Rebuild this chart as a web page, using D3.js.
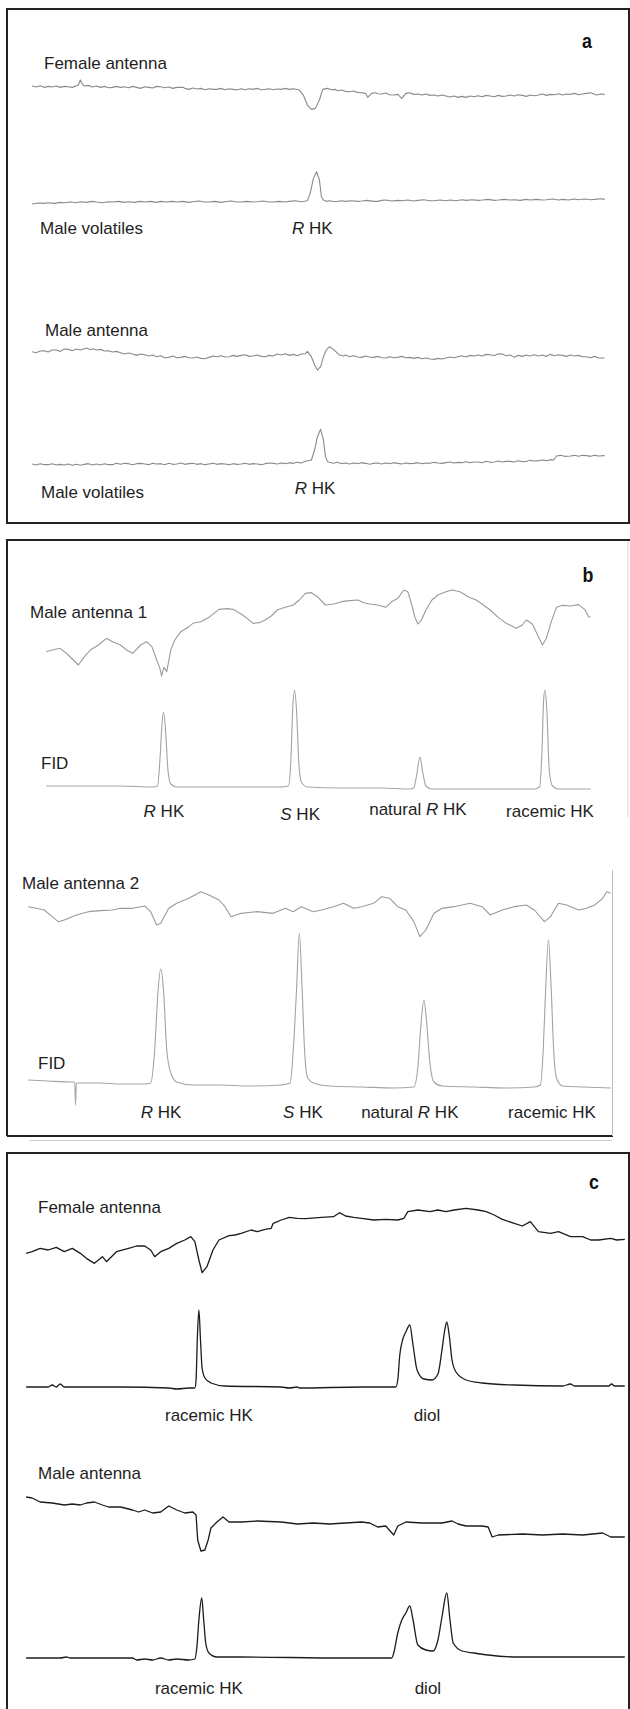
<!DOCTYPE html>
<html><head><meta charset="utf-8">
<script src="https://cdn.jsdelivr.net/npm/d3@7"></script>
<style>html,body{margin:0;padding:0;background:#fff;}svg{display:block;}</style>
</head><body>
<svg id="chart" width="630" height="1709"></svg>
<script>
// ---------- DATA: [retention time (arbitrary units), detector response] ----------
const femaleAntennaA = [[8.0,0.2],[9.0,-0.1],[10.0,0.3],[11.0,-0.2],[12.0,0.1],[13.0,-0.1],[14.0,0.2],[15.0,-0.2],[16.0,0.1],[17.0,0],[18.0,-0.2],[19.0,0.3],[19.5,0.5],[20.0,2.0],[20.5,0.8],[21.0,0.2],[22.0,0.4],[23.0,-0.1],[24.0,0.2],[25.0,-0.2],[26.0,0.1],[27.0,-0.3],[28.0,-0.2],[29.0,0.1],[30.0,-0.2],[31.0,0],[32.0,-0.3],[33.0,0.1],[34.0,-0.2],[35.0,-0.5],[36.0,0],[37.0,-0.2],[38.0,-0.4],[39.0,0.1],[40.0,0],[41.0,-0.3],[42.0,-0.1],[43.0,-0.5],[44.0,-0.2],[45.5,-0.2],[46.0,-0.5],[47.0,-0.8],[48.0,-0.4],[49.0,-0.7],[50.0,-0.5],[51.0,-0.9],[52.0,-0.6],[53.0,-0.8],[54.0,-0.8],[55.0,-0.5],[56.0,-0.9],[57.0,-0.6],[58.0,-0.8],[59.0,-1.0],[60.0,-0.6],[61.0,-0.9],[62.0,-0.6],[63.0,-0.8],[64.0,-0.5],[65.0,-0.9],[66.0,-0.8],[67.0,-0.6],[68.0,-0.9],[69.0,-0.7],[70.0,-0.8],[71.0,-0.5],[72.0,-0.8],[73.0,-0.6],[74.5,-1.0],[75.5,-2.5],[76.5,-5.5],[77.5,-6.8],[78.5,-6.5],[79.5,-4.0],[80.3,-0.8],[81.5,-0.5],[82.5,-0.9],[83.5,-0.8],[84.0,-1.2],[85.0,-1.0],[86.0,-1.4],[87.0,-1.5],[88.0,-1.3],[89.0,-1.7],[90.0,-1.8],[91.0,-2.0],[91.5,-3.2],[92.5,-2.0],[93.5,-1.8],[94.0,-2.1],[95.0,-2.2],[96.0,-1.9],[97.0,-2.4],[98.0,-2.5],[99.0,-2.3],[100.0,-3.5],[101.0,-2.0],[102.0,-1.8],[103.0,-2.3],[104.0,-2.2],[105.0,-2.5],[106.0,-2.2],[107.0,-2.6],[108.0,-2.5],[109.0,-2.8],[110.0,-2.5],[111.0,-2.8],[112.0,-3.1],[113.0,-2.8],[114.0,-3.2],[115.0,-2.9],[116.0,-3.2],[117.0,-2.8],[118.0,-3.0],[119.0,-2.7],[120.0,-3.0],[121.0,-2.6],[122.0,-2.8],[123.0,-3.0],[124.0,-2.6],[125.0,-2.9],[126.0,-2.8],[127.0,-2.5],[128.0,-2.8],[129.0,-2.4],[130.0,-2.6],[131.0,-2.9],[132.0,-2.5],[133.0,-2.7],[134.0,-2.5],[135.0,-2.2],[136.0,-2.6],[137.0,-2.3],[138.0,-2.4],[139.0,-2.1],[140.0,-2.5],[141.0,-2.2],[142.0,-2.3],[143.0,-2.0],[144.0,-2.4],[145.0,-2.2],[146.0,-2.0],[147.0,-1.8],[148.5,-2.5],[149.5,-2.2],[150.5,-2.3]];
const maleVolatilesA1 = [[8.0,-0.7],[9.5,-0.4],[11.0,-0.5],[12.0,-0.3],[13.5,-0.5],[15.0,-0.2],[16.0,-0.3],[17.5,-0.1],[19.0,-0.3],[20.0,0],[21.5,-0.2],[23.0,0.1],[24.0,-0.1],[25.5,-0.3],[27.0,0],[28.0,-0.1],[29.5,0.1],[31.0,-0.2],[32.0,0],[33.5,-0.2],[35.0,0.1],[36.0,-0.1],[37.5,0.1],[39.0,-0.2],[40.0,0.1],[41.5,-0.1],[43.0,0.1],[44.0,-0.1],[45.5,0.1],[47.0,-0.2],[48.0,0],[49.5,0.2],[51.0,-0.1],[52.0,-0.1],[53.5,0.1],[55.0,-0.2],[56.0,0],[57.5,0.2],[59.0,-0.1],[60.0,-0.1],[61.5,0.1],[63.0,-0.1],[64.0,0],[65.5,0.2],[67.0,-0.1],[68.0,-0.1],[69.5,0.1],[71.0,-0.1],[72.0,0.1],[73.5,0.3],[75.0,0],[76.5,0.3],[77.2,2.5],[78.0,7.0],[78.8,9.0],[79.5,6.5],[80.0,1.5],[80.5,0.5],[81.2,0.1],[82.0,0.3],[83.5,0.0],[85.0,0.3],[86.0,0.1],[87.5,0.3],[89.0,0.1],[90.0,0.2],[91.5,0.4],[93.0,0.1],[94.0,0.1],[95.0,0.4],[96.0,0.5],[97.5,0.2],[99.0,0.4],[100.0,0.3],[101.5,0.5],[103.0,0.2],[104.0,0.4],[105.5,0.6],[107.0,0.3],[108.0,0.3],[109.5,0.5],[111.0,0.3],[112.0,0.5],[113.5,0.3],[115.0,0.6],[116.0,0.4],[117.5,0.6],[119.0,0.4],[120.0,0.5],[121.5,0.7],[123.0,0.4],[124.0,0.5],[125.5,0.7],[127.0,0.5],[128.0,0.6],[129.5,0.4],[131.0,0.7],[132.0,0.5],[133.5,0.7],[135.0,0.5],[136.0,0.6],[137.5,0.8],[139.0,0.5],[140.0,0.7],[141.5,0.5],[143.0,0.8],[144.0,0.6],[145.5,0.8],[147.0,0.6],[148.0,0.7],[149.5,0.9],[150.5,0.7]];
const maleAntennaA = [[8.0,1.5],[9.0,1.2],[10.0,1.7],[11.0,1.8],[12.0,1.4],[13.0,2.0],[14.0,2.0],[15.0,1.6],[16.0,2.3],[17.0,2.2],[18.0,1.8],[19.0,2.3],[20.0,2.0],[21.0,2.4],[21.5,2.6],[22.5,2.1],[23.0,2.4],[24.0,2.0],[25.0,2.2],[26.0,1.7],[27.0,1.8],[28.0,1.4],[29.0,1.6],[30.0,1.2],[31.0,0.8],[32.0,1.1],[33.0,0.8],[34.0,0.4],[35.0,0.8],[36.0,0.6],[37.0,0.2],[38.0,0.5],[39.0,0],[40.0,0.3],[41.0,-0.3],[42.0,-0.2],[43.0,0.2],[44.0,-0.3],[45.0,-0.2],[46.0,0.1],[47.0,-0.3],[48.0,-0.4],[49.0,-0.1],[50.0,-0.5],[51.0,-0.6],[52.0,-0.2],[53.0,0.2],[54.0,0],[55.0,0.3],[56.0,-0.1],[57.0,0],[58.0,0.4],[59.0,0.1],[60.0,0.4],[61.0,0.6],[62.0,0.1],[63.0,0.2],[64.0,0.5],[65.0,0.1],[66.0,0],[67.0,0.4],[68.0,0.2],[69.0,0.8],[70.0,0.5],[71.0,0.9],[72.0,0.4],[73.0,0.7],[74.0,0.3],[75.0,0.8],[76.0,0.9],[76.5,1.6],[77.5,0],[78.3,-2.5],[79.0,-4.0],[79.8,-3.0],[80.5,0],[81.2,2.0],[82.0,3.0],[83.0,2.2],[84.5,0.5],[85.5,0.2],[86.0,0.5],[87.0,0],[88.0,0.3],[89.0,-0.1],[90.0,-0.2],[91.0,0.2],[92.0,-0.1],[93.0,-0.2],[94.0,0.1],[95.0,-0.3],[96.0,-0.4],[97.0,0],[98.0,-0.3],[99.0,-0.2],[100.0,0.1],[101.0,-0.3],[102.0,-0.2],[103.0,-0.5],[104.0,-0.2],[105.0,-0.6],[106.0,-0.4],[107.0,-0.7],[108.0,-0.8],[109.0,-0.5],[110.0,-0.7],[111.0,-0.4],[112.0,-0.1],[113.0,-0.3],[114.0,0],[115.0,0.3],[116.0,-0.1],[117.0,0.4],[118.0,0.2],[119.0,0.5],[120.0,0.2],[121.0,0.7],[122.0,0.6],[123.0,0.3],[124.0,0.9],[125.0,0.8],[126.0,0.3],[127.0,0.5],[128.0,-0.2],[129.0,0.4],[130.0,0.1],[131.0,0.5],[132.0,0.2],[133.0,0.6],[134.0,0.2],[135.0,0.5],[136.0,0.1],[137.0,0.7],[138.0,0.3],[139.0,0.6],[140.0,0.4],[141.0,0.1],[142.0,0.5],[143.0,0.2],[144.0,0.4],[145.0,0],[146.0,0],[147.0,-0.3],[148.0,0.1],[149.0,-0.4],[150.5,-0.4]];
const maleVolatilesA2 = [[8.0,0],[9.0,-0.3],[10.0,0.1],[11.0,-0.2],[12.0,-0.2],[13.0,0.1],[14.0,-0.3],[15.0,-0.1],[16.0,-0.3],[17.0,0],[18.0,-0.4],[19.0,-0.1],[20.0,-0.4],[21.0,-0.1],[22.0,0.1],[23.0,-0.3],[24.0,0],[25.0,-0.3],[26.0,0.1],[27.0,-0.2],[28.0,-0.2],[29.0,0.2],[30.0,-0.1],[31.0,0.2],[32.0,0.1],[33.0,-0.2],[34.0,0.1],[35.0,0.2],[36.0,0],[37.0,-0.2],[38.0,0.2],[39.0,0],[40.0,0.1],[41.0,-0.2],[42.0,0.2],[43.0,-0.1],[44.0,0],[45.0,0.3],[46.0,-0.1],[47.0,0.1],[48.0,0.2],[49.0,-0.1],[50.0,0.1],[51.0,-0.2],[52.0,0],[53.0,0.2],[54.0,-0.1],[55.0,0.1],[56.0,0],[57.0,-0.2],[58.0,0.1],[59.0,-0.1],[60.0,0],[61.0,0.2],[62.0,-0.1],[63.0,0.1],[64.0,0],[65.0,-0.2],[66.0,0.1],[67.0,0.3],[68.0,0.2],[69.0,0],[70.0,0.3],[71.0,0.1],[72.0,0.4],[73.0,0.2],[74.0,0.5],[75.0,0.3],[76.0,0.8],[77.5,1.2],[78.3,4.2],[79.0,8.2],[79.8,10.4],[80.5,7.2],[81.0,2.2],[81.5,0.7],[82.0,0.5],[83.0,0.2],[84.0,0.5],[85.0,0.1],[86.0,0.3],[87.0,0],[88.0,0.3],[89.0,0.1],[90.0,0.4],[91.0,0.2],[92.0,-0.1],[93.0,0.2],[94.0,0.3],[95.0,0],[96.0,0.3],[97.0,0.1],[98.0,0.4],[99.0,0.2],[100.0,0],[101.0,0.3],[102.0,0.1],[103.0,0.2],[104.0,0.4],[105.0,0.1],[106.0,0.3],[107.0,0.2],[108.0,0.5],[109.0,0.3],[110.0,0.2],[111.0,0.4],[112.0,0.6],[113.0,0.3],[114.0,0.5],[115.0,0.4],[116.0,0.7],[117.0,0.4],[118.0,0.6],[119.0,0.6],[120.0,0.4],[121.0,0.8],[122.0,0.5],[123.0,0.6],[124.0,0.9],[125.0,0.6],[126.0,0.8],[127.0,0.8],[128.0,0.6],[129.0,1.0],[130.0,0.7],[131.0,0.8],[132.0,1.1],[133.0,0.9],[134.0,1.0],[135.0,1.2],[136.0,1.0],[137.0,1.3],[137.8,1.2],[138.5,2.4],[139.5,2.6],[140.5,2.3],[142.0,2.4],[143.0,2.6],[144.0,2.3],[145.0,2.6],[146.0,2.5],[147.0,2.3],[148.0,2.6],[149.0,2.4],[150.5,2.5]];

const maleAntenna1B = [[11.5,-6.5],[13.0,-6.0],[15.0,-5.5],[17.0,-7.5],[19.5,-10.5],[21.0,-8.0],[22.5,-6.0],[24.5,-4.5],[26.5,-2.5],[28.0,-3.5],[30.0,-4.5],[31.5,-6.0],[33.0,-7.0],[35.0,-4.5],[36.5,-3.5],[37.8,-5.0],[39.0,-9.0],[39.8,-11.5],[40.2,-13.8],[40.8,-11.2],[41.5,-12.5],[42.5,-6.0],[43.5,-3.0],[45.0,-0.5],[47.0,1.0],[48.0,2.0],[50.0,2.5],[52.0,3.8],[54.5,6.2],[56.5,6.4],[58.0,6.2],[60.0,4.8],[61.5,3.5],[63.0,2.0],[64.5,2.2],[66.0,3.0],[67.5,4.2],[69.0,6.0],[71.0,6.8],[73.0,7.5],[74.5,9.0],[76.0,11.0],[77.5,11.2],[79.0,10.0],[81.0,7.5],[83.0,7.8],[85.0,8.5],[87.0,8.8],[89.0,9.0],[90.5,8.2],[92.0,7.8],[94.0,7.5],[96.0,6.8],[97.5,8.5],[99.0,9.5],[100.5,12.0],[101.5,11.5],[102.5,7.5],[103.2,4.0],[104.0,1.8],[105.0,3.2],[106.0,6.0],[107.5,9.0],[109.0,10.5],[111.0,11.5],[112.5,12.0],[114.5,11.5],[116.5,10.0],[118.5,9.0],[120.0,7.8],[122.0,6.0],[124.0,3.8],[126.0,2.0],[128.5,0.5],[130.0,1.5],[131.0,3.0],[132.5,1.8],[134.0,-2.0],[135.0,-4.5],[136.0,-2.5],[137.2,2.5],[138.5,6.8],[140.0,7.4],[142.0,7.2],[144.0,7.6],[145.5,6.2],[146.5,4.0],[147.0,3.8]];
const fidB1 = [[11.5,1],[20.0,1],[30.0,1],[38.0,0],[39.2,1],[39.8,27],[40.3,62],[40.7,75],[41.2,57],[41.8,17],[42.5,3],[44.0,0],[50.0,0],[60.0,0],[70.0,0],[71.8,1],[72.4,27],[72.9,82],[73.3,97],[73.8,77],[74.4,22],[75.0,5],[76.5,0],[85.0,-1],[95.0,-1],[102.0,-2],[103.0,-1],[103.7,12],[104.5,30],[105.2,15],[106.0,1],[107.5,-2],[115.0,-2],[125.0,-2],[133.0,-2],[134.3,0],[134.9,37],[135.3,87],[135.6,97],[136.1,77],[136.7,17],[137.5,1],[139.0,-2],[147.0,-2]];
const maleAntenna2B = [[7.0,1.0],[9.0,0.5],[11.0,0],[13.0,-2.0],[14.5,-3.5],[16.0,-3.0],[19.0,-1.5],[22.0,-0.5],[25.0,-0.2],[28.0,0],[30.0,0.5],[33.0,0.5],[36.0,1.2],[37.5,-0.5],[39.0,-4.5],[40.0,-4.0],[42.0,0.5],[44.0,2.0],[47.0,3.5],[50.0,5.5],[52.0,4.5],[54.5,3.0],[56.0,1.0],[57.5,-2.0],[60.0,-1.0],[64.0,-0.5],[68.0,-1.0],[71.0,0.5],[73.0,-0.5],[75.0,1.0],[78.0,-0.5],[80.0,0],[83.0,1.0],[85.5,2.0],[88.0,0.5],[90.0,1.0],[93.0,2.0],[95.0,4.0],[97.0,3.5],[99.0,1.0],[101.0,0],[103.0,-3.5],[104.5,-8.0],[106.0,-6.0],[108.0,-1.0],[110.0,0.5],[113.0,1.0],[117.0,2.0],[120.0,1.0],[122.0,-1.5],[125.0,0],[128.0,1.0],[131.0,1.5],[133.0,0],[135.5,-3.5],[137.0,-2.0],[139.0,2.0],[141.0,1.5],[144.0,0],[146.0,0.5],[148.0,1.5],[150.0,3.5],[151.0,5.5],[152.0,5.0]];
const fidB2 = [[7.0,8],[12.0,7],[18.0,6],[18.6,6],[18.8,-17],[19.0,5],[25.0,5],[30.0,4],[36.0,4],[37.5,5],[38.5,38],[39.3,95],[40.0,119],[40.7,98],[41.5,38],[42.5,15],[44.0,6],[48.0,3],[55.0,3],[62.0,2],[70.0,3],[72.2,5],[73.0,38],[73.8,98],[74.5,155],[75.2,98],[75.8,38],[76.5,11],[78.0,5],[82.0,2],[90.0,1],[98.0,0],[103.0,1],[104.0,21],[104.8,65],[105.5,88],[106.2,65],[107.0,25],[108.0,6],[110.0,2],[118.0,1],[126.0,0],[133.0,1],[134.5,3],[135.2,38],[135.8,98],[136.5,148],[137.2,98],[137.8,38],[138.5,10],[140.0,2],[145.0,1],[152.0,0]];

const femaleAntennaC = [[6.5,-4.0],[8.0,-3.5],[10.0,-2.5],[12.0,-3.0],[14.0,-2.2],[16.0,-3.5],[18.0,-2.5],[20.0,-4.0],[21.5,-5.5],[23.5,-7.0],[25.5,-5.0],[26.5,-6.5],[29.0,-3.5],[32.0,-2.5],[34.0,-1.8],[36.0,-1.8],[37.5,-3.0],[38.5,-5.0],[40.0,-3.5],[42.0,-2.5],[44.0,-1.0],[46.0,0],[47.5,1.0],[48.5,-0.5],[49.5,-6.0],[50.3,-9.8],[51.5,-8.0],[53.0,-3.0],[54.5,0],[57.0,1.3],[58.5,1.5],[60.0,2.0],[62.5,3.0],[64.0,2.5],[66.0,3.2],[67.5,3.5],[68.0,5.0],[70.0,6.0],[72.0,6.8],[74.0,6.5],[76.0,6.4],[80.0,6.8],[83.0,7.0],[84.5,8.2],[86.0,7.2],[88.0,6.8],[90.0,6.5],[93.0,6.0],[96.0,6.2],[99.0,6.0],[100.5,6.5],[101.5,8.5],[104.0,9.0],[107.0,8.5],[109.0,9.0],[111.0,8.5],[113.0,9.0],[116.0,9.5],[119.0,9.0],[121.0,8.5],[123.0,7.5],[125.0,6.2],[128.0,5.0],[130.0,4.2],[132.0,5.5],[134.0,2.5],[137.0,2.0],[139.0,2.5],[142.0,1.0],[145.0,1.0],[147.0,0],[149.0,0],[152.0,0.5],[153.5,0],[155.5,0.2]];
const fidC1 = [[6.5,0],[12.0,0],[13.0,2],[14.0,0],[15.0,3],[16.0,0],[30.0,0],[42.0,-1],[44.0,-2],[47.0,-1],[48.5,-1],[48.8,7],[49.1,47],[49.5,77],[49.9,47],[50.3,19],[51.0,9],[52.5,4],[56.0,1],[70.0,0],[72.0,-1],[74.0,0],[74.5,-1],[90.0,0],[98.5,0],[99.0,7],[99.5,32],[100.2,47],[101.0,55],[102.0,62],[102.8,42],[103.8,17],[105.5,8],[107.5,7],[109.0,13],[110.0,37],[110.7,57],[111.2,65],[111.8,52],[112.5,27],[113.5,15],[116.0,7],[120.0,4],[128.0,2],[140.0,1],[142.0,3],[143.0,1],[151.5,1],[152.2,3],[153.0,1],[155.5,1]];
const maleAntennaC = [[6.5,8],[8.0,7],[10.0,3],[13.0,2],[16.0,0],[18.0,1],[20.0,0],[21.5,2],[23.5,3],[25.5,0],[27.0,-2],[30.0,-2],[33.0,-5],[34.5,-7],[36.0,-5],[38.0,-8],[40.0,-7],[42.0,-1],[44.0,-5],[46.0,-8],[48.0,-7],[48.8,-10],[49.2,-35],[50.0,-46],[51.0,-45],[51.8,-35],[52.5,-23],[54.0,-17],[55.5,-12],[57.0,-17],[60.0,-17],[64.0,-16],[70.0,-17],[74.0,-19],[78.0,-18],[82.0,-19],[86.0,-18],[90.0,-17],[92.0,-18],[94.0,-22],[96.0,-21],[98.0,-30],[99.0,-21],[101.0,-17],[105.0,-18],[110.0,-18],[112.5,-16],[114.0,-19],[116.0,-21],[120.0,-21],[121.5,-22],[122.5,-32],[124.0,-30],[130.0,-29],[135.0,-30],[140.0,-29],[145.0,-30],[150.0,-28],[152.0,-32],[155.5,-32]];
const fidC2 = [[6.5,0],[15.0,0],[16.5,1],[17.5,0],[33.0,0],[34.0,-2],[36.0,-1],[38.0,-2],[40.0,0],[42.0,-2],[44.0,-1],[47.0,-2],[48.5,-1],[49.0,11],[49.5,38],[50.2,60],[50.7,38],[51.2,15],[52.0,5],[54.0,1],[60.0,1],[85.0,0],[97.5,0],[98.0,5],[99.0,25],[100.0,38],[101.0,45],[102.0,52],[102.8,38],[104.0,13],[106.0,8],[107.8,7],[109.0,18],[110.0,41],[111.2,65],[112.0,38],[112.8,15],[115.0,7],[118.0,5],[121.5,3],[129.0,1],[155.5,1]];

// ---------- LABELS ----------
const panelLetters = ["a", "b", "c"];
const traceNames = ["Female antenna", "Male volatiles", "Male antenna", "Male volatiles",
                    "Male antenna 1", "FID", "Male antenna 2", "FID",
                    "Female antenna", "Male antenna"];
// peak labels: segments, nested array = italic
const peakLabelsB = [[["R"], " HK"], [["S"], " HK"], ["natural ", ["R"], " HK"], ["racemic HK"]];
const peakTimesB1 = [40.8, 74.7, 104.0, 136.9];
const peakTimesB2 = [40.1, 75.4, 102.0, 137.4];
const peakLabelA = [["R"], " HK"];
const peakTimesA = [77.7, 78.4];
const peakLabelsC = [["racemic HK"], ["diol"]];
const peakTimesC1 = [52.0, 106.3];
const peakTimesC2 = [49.5, 106.5];

// ---------- LAYOUT ----------
const W = 630, H = 1709;
const svg = d3.select("#chart");
const x = d3.scaleLinear().domain([0, 156.8]).range([0, W]);
const FONT = "'Liberation Sans', Arial, Helvetica, sans-serif";
const TXT = "#1e1e1e";

const grayA = "#8a8a8a", grayB = "#9a9a9a", grayFID = "#a3a3a3", dark = "#1c1c1c";
const traces = [
  {data: femaleAntennaA, base: 86.7, gain: 10/3, color: grayA, w: 1.1, curve: d3.curveLinear},
  {data: maleVolatilesA1, base: 201.7, gain: 10/3, color: grayA, w: 1.1, curve: d3.curveLinear},
  {data: maleAntennaA, base: 356.7, gain: 10/3, color: grayA, w: 1.1, curve: d3.curveLinear},
  {data: maleVolatilesA2, base: 464, gain: 10/3, color: grayA, w: 1.1, curve: d3.curveLinear},
  {data: maleAntenna1B, base: 630, gain: 10/3, color: grayB, w: 1.1, curve: d3.curveLinear},
  {data: fidB1, base: 787, gain: 1, color: grayFID, w: 1.1, curve: d3.curveMonotoneX},
  {data: maleAntenna2B, base: 910, gain: 10/3, color: grayB, w: 1.1, curve: d3.curveLinear},
  {data: fidB2, base: 1088, gain: 1, color: grayFID, w: 1.1, curve: d3.curveMonotoneX},
  {data: femaleAntennaC, base: 1240, gain: 10/3, color: dark, w: 1.3, curve: d3.curveLinear},
  {data: fidC1, base: 1387, gain: 1, color: dark, w: 1.3, curve: d3.curveMonotoneX},
  {data: maleAntennaC, base: 1505, gain: 1, color: dark, w: 1.3, curve: d3.curveLinear},
  {data: fidC2, base: 1658, gain: 1, color: dark, w: 1.3, curve: d3.curveMonotoneX}
];

// panel frames
const frame = svg.append("g").attr("fill", "none");
frame.append("rect").attr("x", 7).attr("y", 9).attr("width", 622).attr("height", 514)
  .attr("stroke", "#222").attr("stroke-width", 2);
// panel b
frame.append("path").attr("d", "M7,1136 L7,540 L630,540").attr("stroke", "#222").attr("stroke-width", 2);
frame.append("path").attr("d", "M7,1136 L613,1136").attr("stroke", "#222").attr("stroke-width", 2);
frame.append("path").attr("d", "M628,541 L628,817").attr("stroke", "#d4d4d4").attr("stroke-width", 1);
frame.append("path").attr("d", "M612.5,870 L612.5,1136").attr("stroke", "#bdbdbd").attr("stroke-width", 1);
frame.append("path").attr("d", "M30,1140.5 L612,1140.5").attr("stroke", "#cfcfcf").attr("stroke-width", 1);
// panel c
frame.append("path").attr("d", "M7,1709 L7,1153 L629,1153 L629,1709").attr("stroke", "#222").attr("stroke-width", 2);

// traces
traces.forEach(tr => {
  const y = d3.scaleLinear().domain([0, 1]).range([tr.base, tr.base - tr.gain]);
  const line = d3.line().x(d => x(d[0])).y(d => y(d[1])).curve(tr.curve);
  svg.append("path").datum(tr.data).attr("d", line)
    .attr("fill", "none").attr("stroke", tr.color).attr("stroke-width", tr.w)
    .attr("stroke-linejoin", "round");
});

// text helpers
function addText(parts, px, py, anchor) {
  const t = svg.append("text").attr("x", px).attr("y", py)
    .attr("font-family", FONT).attr("font-size", 17).attr("fill", TXT)
    .attr("text-anchor", anchor || "start");
  (Array.isArray(parts) ? parts : [parts]).forEach(p => {
    if (Array.isArray(p)) t.append("tspan").attr("font-style", "italic").text(p[0]);
    else t.append("tspan").text(p);
  });
  return t;
}

// panel letters
const letterPos = [[587, 48], [588, 582], [594, 1189]];
panelLetters.forEach((l, i) => {
  svg.append("text").attr("transform", `translate(${letterPos[i][0]},${letterPos[i][1]}) scale(0.85,1)`)
    .attr("text-anchor", "middle").attr("font-family", FONT).attr("font-weight", "bold")
    .attr("font-size", 21).attr("fill", "#111").text(l);
});

// trace names
const namePos = [[44, 69], [40, 234], [45, 336], [41, 498],
                 [30, 618], [41, 769], [22, 889], [38, 1069],
                 [38, 1213], [38, 1479]];
traceNames.forEach((n, i) => addText(n, namePos[i][0], namePos[i][1]));

// peak labels
addText(peakLabelA, x(peakTimesA[0]), 234, "middle");
addText(peakLabelA, x(peakTimesA[1]), 494, "middle");
peakLabelsB.forEach((lab, i) => {
  addText(lab, x(peakTimesB1[i]), i === 1 ? 820 : (i === 2 ? 815 : 817), "middle");
  addText(lab, x(peakTimesB2[i]), 1118, "middle");
});
peakLabelsC.forEach((lab, i) => {
  addText(lab, x(peakTimesC1[i]), 1421, "middle");
  addText(lab, x(peakTimesC2[i]), 1694, "middle");
});
</script>
</body></html>
